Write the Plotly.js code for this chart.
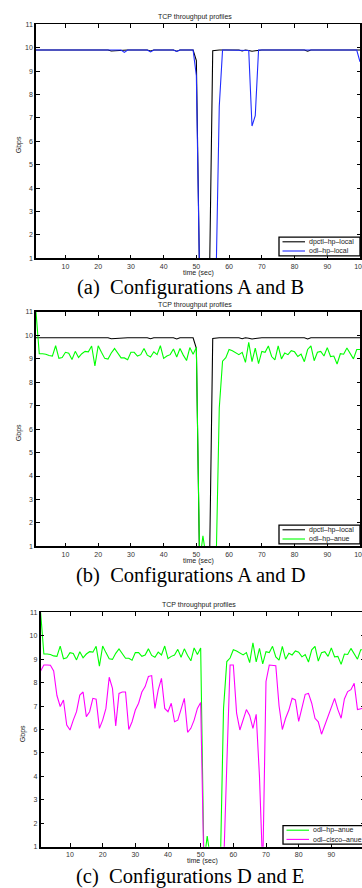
<!DOCTYPE html>
<html><head><meta charset="utf-8">
<script src="https://cdn.plot.ly/plotly-3.0.1.min.js"></script>
<style>html,body{margin:0;padding:0;overflow:hidden;background:#fff;width:362px;height:888px}#chart{width:366px;height:888px}</style>
</head><body><div id="chart"></div><script>
// ---- data ----
const time = [1,2,3,4,5,6,7,8,9,10,11,12,13,14,15,16,17,18,19,20,
  21,22,23,24,25,26,27,28,29,30,31,32,33,34,35,36,37,38,39,40,
  41,42,43,44,45,46,47,48,49,50,51,52,53,54,55,56,57,58,59,60,
  61,62,63,64,65,66,67,68,69,70,71,72,73,74,75,76,77,78,79,80,
  81,82,83,84,85,86,87,88,89,90,91,92,93,94,95,96,97,98,99,100];

const dpctlHpLocal = [
  9.9,9.9,9.9,9.9,9.9,9.9,9.9,9.9,9.9,9.9,
  9.9,9.9,9.9,9.9,9.9,9.9,9.9,9.9,9.9,9.9,
  9.9,9.9,9.9,9.86,9.87,9.9,9.9,9.9,9.9,9.9,
  9.9,9.9,9.9,9.9,9.9,9.86,9.9,9.9,9.9,9.9,
  9.9,9.9,9.9,9.85,9.9,9.9,9.9,9.9,9.9,9.45,
  0,0,0,0,9.87,9.9,9.9,9.9,9.9,9.9,
  9.9,9.9,9.9,9.86,9.9,9.88,9.85,9.87,9.9,9.9,
  9.9,9.9,9.9,9.9,9.9,9.9,9.9,9.9,9.9,9.9,
  9.9,9.9,9.9,9.85,9.9,9.9,9.9,9.9,9.9,9.9,
  9.9,9.9,9.9,9.9,9.9,9.9,9.9,9.9,9.9,9.9];

const odlHpLocal = [
  9.9,9.9,9.9,9.9,9.9,9.9,9.9,9.9,9.9,9.9,
  9.9,9.9,9.9,9.9,9.9,9.9,9.9,9.9,9.9,9.9,
  9.9,9.9,9.9,9.9,9.9,9.9,9.9,9.8,9.9,9.9,
  9.9,9.9,9.9,9.9,9.9,9.82,9.9,9.9,9.9,9.9,
  9.9,9.9,9.9,9.84,9.9,9.9,9.9,9.9,9.9,8.8,
  0,0,0,0,0,0,7.5,9.9,9.9,9.9,
  9.9,9.9,9.9,9.9,9.9,9.88,6.65,7.1,9.9,9.9,
  9.9,9.9,9.9,9.9,9.9,9.9,9.9,9.9,9.9,9.9,
  9.9,9.9,9.9,9.9,9.9,9.9,9.9,9.9,9.9,9.9,
  9.9,9.9,9.9,9.9,9.9,9.9,9.9,9.9,9.9,9.4];

const odlHpAnue = [
  11,9.22,9.22,9.2,9.14,9.12,9.56,9.02,9.06,9.28,
  9.24,8.97,9.32,9.06,9.22,9.32,9.3,9.55,8.7,9.56,
  9.28,9.02,8.99,9.25,9.44,9.24,9.04,9.04,8.96,9.28,
  9.28,9.12,9.18,9.44,9.16,9.08,9.3,9.18,9.56,9.02,
  9.12,9.18,9.42,9.08,9.44,9.16,8.93,9.48,9.2,9.48,
  0.3,1.45,0.5,0,0,0,6.9,8.9,9.05,9.4,
  9.35,9.25,9.18,9.28,8.85,9.7,8.88,9.46,8.8,9.32,
  9.28,9.55,9.1,8.96,9.55,9.0,9.25,9.18,9.35,9.3,
  9.1,9.2,8.88,9.4,9.55,8.92,9.28,9.32,9.12,9.48,
  9.1,9.12,8.78,9.22,9.2,9.46,9.24,9.0,9.4,9.4];

const odlCiscoAnue = [
  8.5,8.75,8.75,8.74,8.5,7.45,6.98,7.26,6.19,5.98,
  6.4,6.76,7.47,7.6,6.55,6.76,7.33,7.29,6.05,6.4,
  6.9,8.23,7.76,6.15,7.54,7.6,7.6,6.0,6.33,6.83,
  7.12,7.6,7.83,8.26,8.3,6.9,7.69,8.18,6.9,6.76,
  7.12,6.33,6.4,6.83,7.33,5.88,6.05,6.4,6.9,7.15,
  0,0,0,0,0,0,0,4.5,8.75,8.75,
  6.7,5.98,6.45,6.85,6.6,6.05,6.65,4.0,0,8.05,
  8.75,8.75,8.72,7.0,6.0,6.48,6.83,7.33,7.26,6.35,
  6.9,7.5,7.54,7.12,6.48,6.33,5.8,6.19,6.55,6.98,
  7.33,6.85,6.48,7.3,7.62,7.7,7.97,6.85,6.9,6.92];

const xTicks = [10,20,30,40,50,60,70,80,90,100];
const yTicks = [1,2,3,4,5,6,7,8,9,10,11];
const seriesNames = ['dpctl\u2013hp\u2013local','odl\u2013hp\u2013local','odl\u2013hp\u2013anue','odl\u2013cisco\u2013anue'];
const chartTitle = 'TCP throughput profiles';
const xTitle = 'time (sec)';
const yTitle = 'Gbps';
const captions = ['(a)\u2002Configurations A and B','(b)\u2002Configurations A and D','(c)\u2002Configurations D and E'];

// ---- layout helpers ----
const W = 366, H = 888;
const px = x => x / W;
const py = y => 1 - y / H;
const COL = {black:'#000000', blue:'#1f2bff', green:'#00ff00', magenta:'#ff00ff'};
const SANS = 'Liberation Sans';
const SERIF = 'Liberation Serif';

const panels = [
  {l:36, r:360, t:24.3, b:258.3, series:[[dpctlHpLocal,0,COL.black],[odlHpLocal,1,COL.blue]], ytx:19},
  {l:36, r:360, t:312, b:546.3, series:[[dpctlHpLocal,0,COL.black],[odlHpAnue,2,COL.green]], ytx:19},
  {l:40.6, r:364, t:612.3, b:846.7, series:[[odlHpAnue,2,COL.green],[odlCiscoAnue,3,COL.magenta]], ytx:22.7}
];

const data = [];
const layout = {
  width: W, height: H,
  margin: {l:0, r:0, t:0, b:0},
  paper_bgcolor: '#fff', plot_bgcolor: '#fff',
  showlegend: false,
  annotations: [], shapes: []
};

panels.forEach((p, i) => {
  const n = i === 0 ? '' : String(i + 1);
  const xa = 'xaxis' + n, ya = 'yaxis' + n;
  const axCommon = {
    showgrid: false, zeroline: false, showline: true, linecolor: '#000', linewidth: 1.8,
    mirror: 'ticks', ticks: 'inside', ticklen: 3.5, tickwidth: 1, tickcolor: '#000',
    tickfont: {family: SANS, size: 7, color: '#333'}, fixedrange: true
  };
  layout[xa] = Object.assign({}, axCommon, {
    domain: [px(p.l), px(p.r)], anchor: 'y' + n, range: [1, 100],
    tickmode: 'array', tickvals: xTicks, ticktext: xTicks.map(String)
  });
  layout[ya] = Object.assign({}, axCommon, {
    domain: [py(p.b), py(p.t)], anchor: 'x' + n, range: [1, 11],
    tickmode: 'array', tickvals: yTicks, ticktext: yTicks.map(String)
  });
  p.series.forEach(([vals, nameIdx, color]) => {
    data.push({
      type: 'scatter', mode: 'lines', x: time, y: vals, name: seriesNames[nameIdx],
      xaxis: 'x' + n, yaxis: 'y' + n, line: {color: color, width: 1.1}, hoverinfo: 'skip'
    });
  });
  const cx = (p.l + p.r) / 2;
  layout.annotations.push({text: chartTitle, xref:'paper', yref:'paper', x: px(cx - 3), y: py(p.t - 7.5),
    xanchor:'center', yanchor:'middle', showarrow:false, font:{family:SANS, size:7, color:'#222'}});
  layout.annotations.push({text: xTitle, xref:'paper', yref:'paper', x: px(cx), y: py(p.b + 14.4),
    xanchor:'center', yanchor:'middle', showarrow:false, font:{family:SANS, size:7, color:'#222'}});
  layout.annotations.push({text: yTitle, xref:'paper', yref:'paper', x: px(p.ytx), y: py((p.t + p.b) / 2 + 4),
    xanchor:'center', yanchor:'middle', textangle:-90, showarrow:false, font:{family:SANS, size:7, color:'#222'}});
  layout.annotations.push({text: captions[i], xref:'paper', yref:'paper', x: px(190), y: py(p.b + 29.5),
    xanchor:'center', yanchor:'middle', showarrow:false, font:{family:SERIF, size:20.5, color:'#000'}});
  const bx1 = p.r, bx0 = p.r - 81, by1 = p.b - 2.5, by0 = by1 - 18.6;
  layout.shapes.push({type:'rect', xref:'paper', yref:'paper', x0:px(bx0), x1:px(bx1), y0:py(by1), y1:py(by0),
    line:{color:'#000', width:1.3}, fillcolor:'#fff', layer:'above'});
  p.series.forEach(([vals, nameIdx, color], k) => {
    const ly = by0 + 4.6 + k * 9.2;
    layout.shapes.push({type:'line', xref:'paper', yref:'paper', x0:px(bx0 + 3.5), x1:px(bx0 + 26), y0:py(ly), y1:py(ly),
      line:{color: color, width: 1.1}, layer:'above'});
    layout.annotations.push({text: seriesNames[nameIdx], xref:'paper', yref:'paper', x: px(bx0 + 28.5), y: py(ly),
      xanchor:'left', yanchor:'middle', showarrow:false, borderpad:0, font:{family:SANS, size:7, color:'#222'}});
  });
});

Plotly.newPlot('chart', data, layout, {staticPlot: true, displayModeBar: false});
</script></body></html>
